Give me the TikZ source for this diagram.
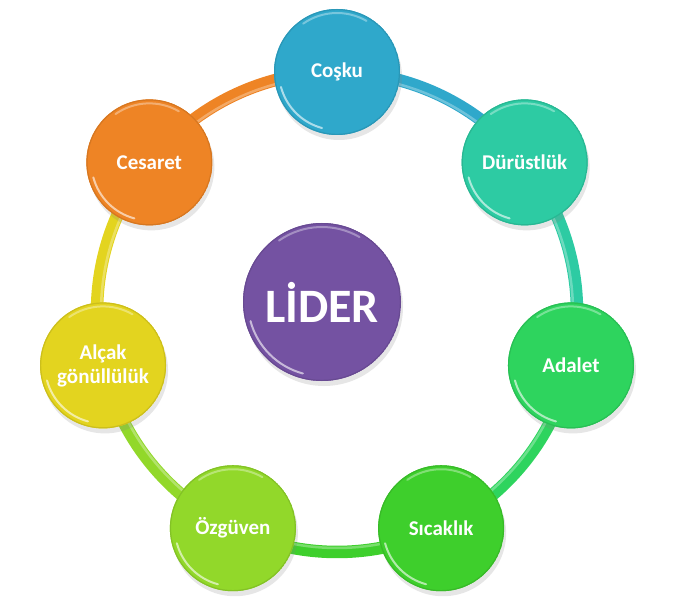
\documentclass[tikz,border=0pt]{standalone}
\usepackage{fontspec}
\setmainfont{Carlito}
\usepackage{tikz}
\usetikzlibrary{shadows, calc}
\definecolor{coskuC}{HTML}{2FA8CB}
\definecolor{durustC}{HTML}{2DCBA3}
\definecolor{adaletC}{HTML}{2ED45E}
\definecolor{sicakC}{HTML}{3ECF2C}
\definecolor{ozguvenC}{HTML}{92D82A}
\definecolor{alcakC}{HTML}{E3D41F}
\definecolor{cesaretC}{HTML}{EE8425}
\definecolor{liderC}{HTML}{7452A2}
\tikzset{
  % Bubble styles
  bubble/.style 2 args={circle, fill=#1, minimum size=2*#2pt, inner sep=0pt, text=white, align=center,
    drop shadow={shadow xshift=2pt, shadow yshift=-5pt, opacity=.2},
    path picture={
      \draw[#1!90!black, line width=1.2pt] (path picture bounding box.center) circle[radius=#2pt-0.6pt];
      \draw[white, opacity=.6, line width=2pt, line cap=round] (path picture bounding box.center) ++(195:#2pt-5pt) arc[start angle=195, end angle=255, radius=#2pt-5pt];
      \draw[white, opacity=.35, line width=2pt, line cap=round] (path picture bounding box.center) ++(60:#2pt-4pt) arc[start angle=60, end angle=125, radius=#2pt-4pt];
    }},
  quality/.style={bubble={#1}{63}, font=\bfseries\fontsize{21}{24}\selectfont},
  center/.style={bubble={liderC}{79}, font=\bfseries\fontsize{48}{50}\selectfont},
  % Ring styles
  link/.style={draw=#1, line width=12.5pt},
  gloss/.style={draw=white, opacity=.3, line width=2.5pt},
}
\begin{document}
\begin{tikzpicture}[x=1pt, y=1pt]
    \useasboundingbox (0,0) rectangle (675,606);
    \coordinate (ring) at (337,294);

    % Ring of qualities
    \foreach \c [count=\k from 0] in {coskuC, durustC, adaletC, sicakC, ozguvenC, alcakC, cesaretC} {
      \draw[link=\c] (ring) ++({90-\k*360/7}:240) arc[start angle={90-\k*360/7}, end angle={90-(\k+1)*360/7}, radius=240];
      \draw[gloss] (ring) ++({90-\k*360/7}:236) arc[start angle={90-\k*360/7}, end angle={90-(\k+1)*360/7}, radius=236];
    }

    % Qualities
    \node[quality=coskuC] (cosku) at ([shift={(90:240)}]ring) {Coşku};
    \node[quality=durustC] (durust) at ([shift={(38.57:240)}]ring) {Dürüstlük};
    \node[quality=adaletC] (adalet) at ([shift={(-12.86:240)}]ring) {Adalet};
    \node[quality=sicakC] (sicak) at ([shift={(-64.29:240)}]ring) {Sıcaklık};
    \node[quality=ozguvenC] (ozguven) at ([shift={(-115.71:240)}]ring) {Özgüven};
    \node[quality=alcakC] (alcak) at ([shift={(-167.14:240)}]ring) {Alçak\\gönüllülük};
    \node[quality=cesaretC] (cesaret) at ([shift={(141.43:240)}]ring) {Cesaret};

    % Leader
    \node[center] (lider) at (322,304) {LİDER};
\end{tikzpicture}
\end{document}
